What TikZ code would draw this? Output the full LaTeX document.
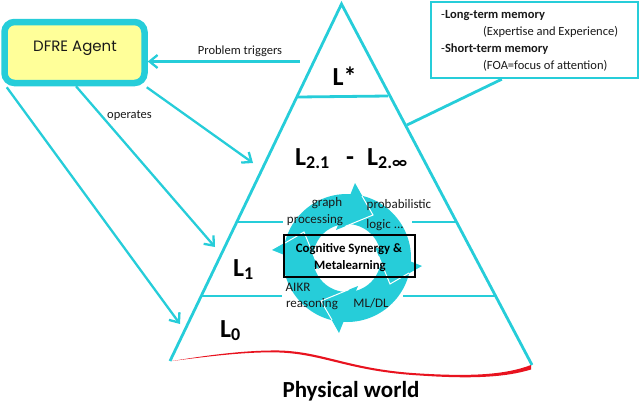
\documentclass[tikz,border=0pt]{standalone}
\usepackage{fontspec}
\setmainfont{Carlito}
\newfontfamily\agentfont{Poppins}
\usetikzlibrary{arrows.meta}
\definecolor{tq}{HTML}{26CDD9}
\definecolor{agentfill}{HTML}{FFFF99}
\definecolor{curvered}{HTML}{E8131F}
\tikzset{
  edgeline/.style={draw=tq,line width=2.8pt},
  arrowline/.style={draw=tq,line width=2.3pt,-{Straight Barb[length=8pt,width=13pt,line width=2.3pt]}},
  lvl/.style={draw=tq,line width=2.8pt},
  small/.style={font=\fontsize{12.5}{14}\selectfont,text=black!90,inner sep=0pt},
  memtext/.style={font=\fontsize{12.5}{14}\selectfont,text=black!90,inner sep=0pt,anchor=west},
  levelname/.style={font=\fontsize{26}{28}\selectfont\bfseries,text=black,inner sep=0pt,anchor=base west},
  ringtext/.style={font=\fontsize{13}{14}\selectfont,text=black!90,inner sep=0pt},
  boldtext/.style={font=\fontsize{12.8}{14}\selectfont\bfseries,text=black,inner sep=0pt},
}
\newcommand{\lsub}[1]{\textsubscript{\fontsize{18}{20}\selectfont #1}}
\begin{document}
\begin{tikzpicture}[x=1pt,y=-1pt]
\useasboundingbox (0,0) rectangle (640,402);
% pyramid
\coordinate (apex) at (341.5,4);
\coordinate (bl) at (170,361);
\coordinate (br) at (532,365);
\draw[edgeline,line join=miter] (bl) -- (apex) -- (br);
\coordinate (t1) at (298,97); \coordinate (t2) at (388,96);
\draw[lvl] (t1) -- (t2);
\coordinate (m1) at (237,222); \coordinate (m2) at (283,222);
\coordinate (m3) at (412,222); \coordinate (m4) at (456,222);
\draw[lvl] (m1) -- (m2) (m3) -- (m4);
\coordinate (b1) at (201,296); \coordinate (b2) at (282,296);
\coordinate (b3) at (403,296); \coordinate (b4) at (495,296);
\draw[lvl] (b1) -- (b2) (b3) -- (b4);
% physical world curve
\fill[curvered] (172,361) .. controls (215,354) and (250,350) .. (280,350.5)
  .. controls (325,352) and (350,369.5) .. (420,373.5)
  .. controls (470,376.5) and (505,375) .. (531,365)
  -- (531,369.5) .. controls (505,377.5) and (470,379) .. (420,375.5)
  .. controls (350,371.5) and (325,354.5) .. (280,352.5)
  .. controls (250,351.5) and (215,355.5) .. cycle;
% cycle ring
\fill[tq,even odd rule] (347,258) circle[radius=64] (347,258) circle[radius=34];
\foreach \a in {0,90,180,270}{
  \begin{scope}[rotate around={\a:(347,258)}]
    \fill[tq] (355,183) -- (373,215) -- (336,230) -- cycle;
    \draw[white,line width=1pt] (362,196) -- (373,215) -- (345,226.5);
  \end{scope}
}
\node[draw=black,line width=1.8pt,minimum width=131pt,minimum height=42pt,inner sep=0pt] (cogbox) at (349.5,256) {};
\node[boldtext] (cog1) at (349,249) {Cognitive Synergy \&};
\node[boldtext] (cog2) at (350,266) {Metalearning};
\node[ringtext] (r1) at (327,203) {graph};
\node[ringtext] (r2) at (315,220) {processing};
\node[ringtext] (r3) at (399,205) {probabilistic};
\node[ringtext] (r4) at (385,225) {logic ...};
\node[ringtext] (r5) at (298,287) {AIKR};
\node[ringtext] (r6) at (312,304) {reasoning};
\node[ringtext] (r7) at (371,303) {ML/DL};
% agent
\node[draw=tq,fill=agentfill,line width=6.5pt,rounded corners=10pt,minimum width=140pt,minimum height=61pt,inner sep=0pt] (agent) at (74.5,52.5) {};
\node[font=\agentfont\fontsize{15}{17}\selectfont,text=black!90,inner sep=0pt] (agentname) at (75,48) {DFRE Agent};
% arrows
\coordinate (trigstart) at (300,61.5);
\draw[arrowline] (trigstart) -- (agent.east |- trigstart);
\node[small] (trig) at (240,51) {Problem triggers};
\coordinate (tipa) at (253,163);
\coordinate (tipb) at (215,247);
\coordinate (tipc) at (180,324);
\draw[arrowline] ([xshift=-1pt,yshift=-1pt]agent.south east) -- (tipa);
\draw[arrowline] ([xshift=1.5pt]agent.south) -- (tipb);
\draw[arrowline] ([xshift=5.5pt,yshift=-1pt]agent.south west) -- (tipc);
\node[small] (ops) at (129.5,116) {operates};
% memory
\node[draw=tq,line width=2.4pt,minimum width=207pt,minimum height=76pt,inner sep=0pt] (mem) at (534.5,40) {};
\coordinate (memfoot) at (407,125);
\draw[edgeline] ([xshift=72pt]mem.south west) -- (memfoot);
\node[memtext] (m-a) at (441,16) {-\textbf{Long-term memory}};
\node[memtext] (m-b) at (483,32) {(Expertise and Experience)};
\node[memtext] (m-c) at (441,49) {-\textbf{Short-term memory}};
\node[memtext] (m-d) at (483,66) {(FOA=focus of attention)};
% level names
\node[levelname] (ls) at (332.5,85) {L*};
\node[levelname] (l21) at (295,165) {L\lsub{2.1}};
\node[levelname] (dash) at (346,165) {-};
\node[levelname] (l2i) at (367,165) {L\lsub{2.∞}};
\node[levelname] (l1) at (233,276) {L\lsub{1}};
\node[levelname] (l0) at (220,337) {L\lsub{0}};
\node[font=\fontsize{23}{25}\selectfont\bfseries,text=black,inner sep=0pt] (phys) at (351,391) {Physical world};
\end{tikzpicture}
\end{document}
